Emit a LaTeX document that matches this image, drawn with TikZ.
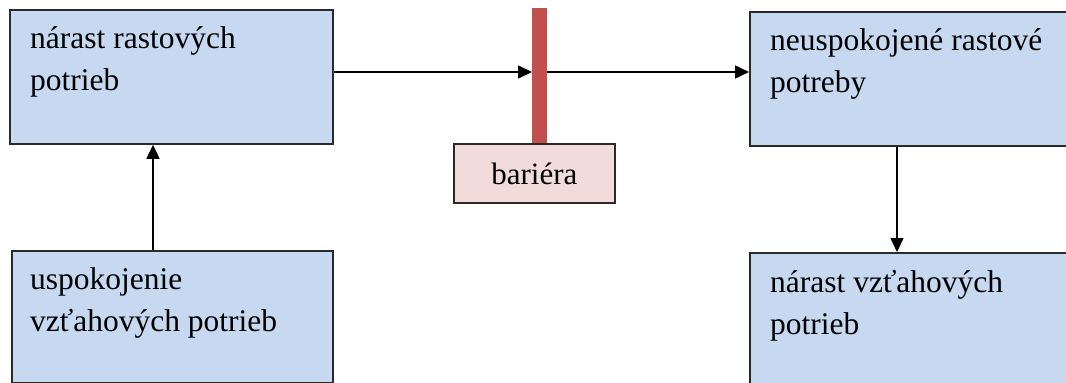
\documentclass[tikz,border=0pt]{standalone}
\usepackage{fontspec}
\setmainfont{Liberation Serif}
\usetikzlibrary{arrows.meta}
\definecolor{boxblue}{HTML}{C6D9F1}
\definecolor{barred}{HTML}{C0504D}
\definecolor{barpink}{HTML}{F2DCDB}
\definecolor{edgegray}{HTML}{2A2A2A}
\begin{document}
\begin{tikzpicture}[x=1pt,y=-1pt,
  box/.style={rectangle, draw=edgegray, line width=1.8pt, fill=boxblue,
    inner sep=0pt, anchor=north west},
  barbox/.style={rectangle, fill=barred, inner sep=0pt, anchor=north west},
  tagbox/.style={rectangle, draw=edgegray, line width=1.8pt, fill=barpink,
    inner sep=0pt, anchor=north west, font=\fontsize{31}{40}\selectfont},
  txt/.style={inner sep=0pt, anchor=base west, font=\fontsize{31.5}{42}\selectfont},
  arr/.style={line width=1.6pt, -{Triangle[length=14pt,width=13pt]}},
]
\useasboundingbox (0,0) rectangle (1066,383);
\clip (0,0) rectangle (1066,383);

% boxes
\node[box, minimum width=323pt, minimum height=134pt] (a) at (9,9) {};
\node[box, minimum width=321pt, minimum height=132pt] (b) at (11,250) {};
\node[box, minimum width=340pt, minimum height=134pt] (c) at (749,11) {};
\node[box, minimum width=340pt, minimum height=140pt] (d) at (749,252) {};

% barrier and its label
\node[barbox, minimum width=15pt, minimum height=135pt] (bar) at (532,8) {};
\node[tagbox, minimum width=161pt, minimum height=59pt] (tag) at (453,143) {bariéra};

% box texts
\node[txt] (ta) at (30,48) {\parbox[t]{320pt}{nárast rastových\\potrieb}};
\node[txt] (tb) at (30,289) {\parbox[t]{320pt}{uspokojenie\\vzťahových potrieb}};
\node[txt] (tc) at (770,50) {\parbox[t]{320pt}{neuspokojené rastové\\potreby}};
\node[txt] (td) at (770,292) {\parbox[t]{320pt}{nárast vzťahových\\potrieb}};

% connector levels
\coordinate (lvl) at (0,72);
\coordinate (lx) at (153,0);
\coordinate (rx) at (897,0);

% connectors
\draw[arr] (a.east |- lvl) -- (bar.west |- lvl);
\draw[arr] (bar.east |- lvl) -- (c.west |- lvl);
\draw[arr] (b.north -| lx) -- (a.south -| lx);
\draw[arr] (c.south -| rx) -- (d.north -| rx);
\end{tikzpicture}
\end{document}
